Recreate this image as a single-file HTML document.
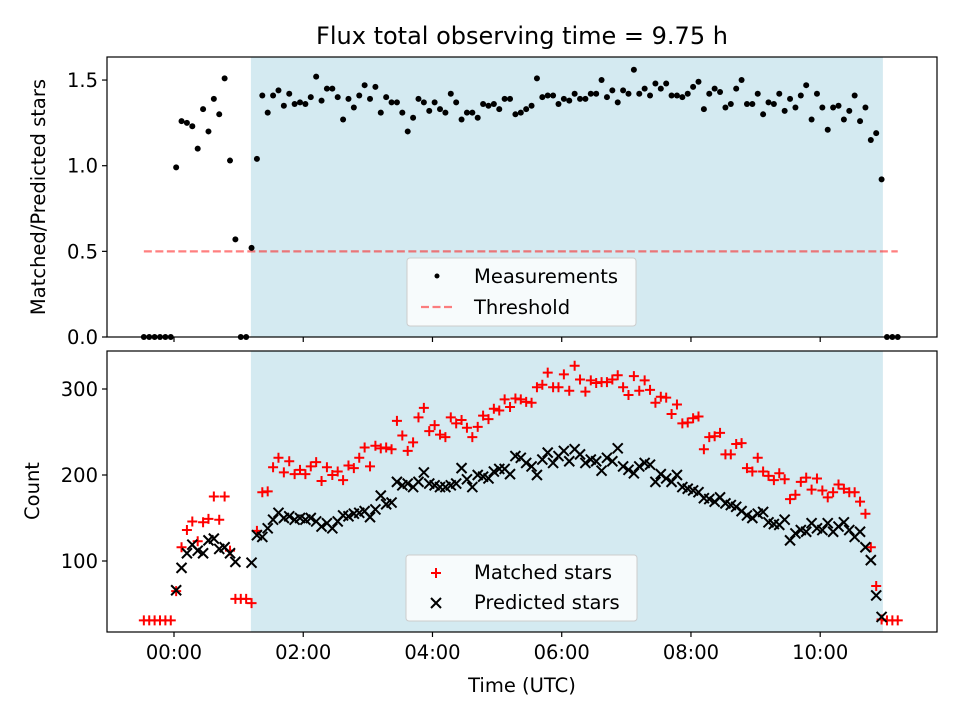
<!DOCTYPE html>
<html><head><meta charset="utf-8"><style>
html,body{margin:0;padding:0;background:#fff;}
svg{display:block;font-family:"DejaVu Sans","Liberation Sans",sans-serif;}
</style></head><body>
<svg id="chart" width="960" height="720" viewBox="0 0 960 720" xmlns="http://www.w3.org/2000/svg">
<text x="522" y="44" font-size="24" text-anchor="middle">Flux total observing time = 9.75 h</text>
<g id="topPanel"></g><g id="botPanel"></g>
</svg>
<script>
// ---- data ----
const startMinutes = -28;
const stepMinutes = 5;
const ratio = [0,0,0,0,0,0,
0.99,1.26,1.25,1.23,1.10,1.33,1.20,1.39,1.30,1.51,1.03,0.57,0,0,0.52,1.04,1.41,1.31,1.41,1.44,1.35,1.42,1.36,1.37,1.36,1.40,1.52,1.38,1.45,1.45,1.40,1.27,1.39,1.34,1.41,1.47,1.39,1.46,1.31,1.40,
1.37,1.37,1.31,1.20,1.28,1.39,1.37,1.32,1.37,1.33,1.31,1.42,1.37,1.27,1.31,1.31,1.28,1.36,1.35,1.36,1.33,1.39,1.39,1.30,1.31,1.33,1.35,1.51,1.40,1.41,1.41,1.36,1.39,1.38,1.42,1.39,1.39,1.42,1.42,1.50,1.40,1.44,1.37,1.44,1.42,1.56,1.42,1.45,1.41,1.48,
1.45,1.48,1.41,1.41,1.40,1.42,1.46,1.49,1.33,1.42,1.45,1.43,1.34,1.36,1.45,1.50,1.36,1.36,1.42,1.30,1.37,1.36,1.42,1.32,1.39,1.34,1.41,1.47,1.27,1.42,1.34,1.21,1.34,1.35,1.27,1.32,1.41,1.26,1.34,1.15,1.19,0.92,
0,0,0];
const matched = [31,31,31,31,31,31,
65,116,136,146,123,145,149,175,148,175,112,56,56,56,51,135,180,181,209,220,203,216,201,206,201,210,215,193,209,200,204,194,211,208,220,232,210,234,231,232,
230,263,246,228,238,267,278,251,258,247,244,267,260,264,255,244,256,269,265,277,275,288,279,289,288,285,284,302,305,319,302,302,317,298,327,311,297,310,307,308,308,311,316,302,293,315,298,310,299,284,
291,290,271,282,260,261,266,268,230,244,245,249,224,224,236,237,208,204,220,204,199,194,202,195,172,177,192,197,183,196,182,174,180,189,184,180,180,169,155,116,71,32,
31,31,31];
const predicted = [null,null,null,null,null,null,
66,92,109,119,112,109,124,126,114,116,109,99,null,null,98,130,128,138,148,156,150,152,148,150,148,150,146,140,144,138,146,153,152,155,156,158,151,160,176,166,
168,192,188,190,186,192,203,190,188,186,186,188,190,208,195,186,200,198,196,204,207,207,201,222,220,214,210,200,218,226,214,222,228,216,230,224,214,218,216,205,220,216,231,210,206,202,210,214,212,192,
201,196,192,200,186,184,182,180,173,172,169,174,167,165,163,158,153,150,155,157,145,143,142,148,124,132,136,134,144,138,136,144,134,140,145,136,128,134,116,101,60,35,
null,null,null];
const xTickHours = [0,2,4,6,8,10];
const xTickLabels = ["00:00","02:00","04:00","06:00","08:00","10:00"];
const topTicks = [0,0.5,1.0,1.5];
const topTickLabels = ["0.0","0.5","1.0","1.5"];
const botTicks = [100,200,300];
const threshold = 0.5;
const spanHours = [1.19,10.97];

// ---- scales ----
const NS="http://www.w3.org/2000/svg";
const L=107,R=937;
const FS=19.5;
const xS=h=>174+h*64.62;
const yTop=v=>337-v*171.3;
const yBot=v=>561-(v-100)*0.86;
const T0=57,T1=337,B0=351,B1=632;
function mk(parent,tag,attrs,text){const e=document.createElementNS(NS,tag);for(const k in attrs)e.setAttribute(k,attrs[k]);if(text!==undefined)e.textContent=text;parent.appendChild(e);return e;}
const hours=ratio.map((_,i)=>(startMinutes+i*stepMinutes)/60);
const topG=document.getElementById('topPanel'), botG=document.getElementById('botPanel');

function panel(g,y0,y1,name){
  let s=mk(g,'rect',{x:xS(spanHours[0]),y:y0,width:xS(spanHours[1])-xS(spanHours[0]),height:y1-y0,fill:'#d4eaf1'});
  
  
}
panel(topG,T0,T1,'top');panel(botG,B0,B1,'bottom');

let th=mk(topG,'line',{x1:xS(hours[0]),x2:xS(hours[hours.length-1]),y1:yTop(threshold),y2:yTop(threshold),stroke:'#ff0000','stroke-opacity':0.5,'stroke-width':2.2,'stroke-dasharray':'8 3.5'});



ratio.forEach((v,i)=>{
  const c=mk(topG,'circle',{cx:xS(hours[i]),cy:yTop(v),r:3,fill:'#000'});
  
  
});
matched.forEach((v,i)=>{
  if(v==null)return;const x=xS(hours[i]),y=yBot(v),d=5;
  const p=mk(botG,'path',{d:`M${x-d} ${y}H${x+d}M${x} ${y-d}V${y+d}`,stroke:'#ff0000','stroke-width':2,fill:'none'});
  
  
});
predicted.forEach((v,i)=>{
  if(v==null)return;const x=xS(hours[i]),y=yBot(v),d=5;
  const p=mk(botG,'path',{d:`M${x-d} ${y-d}L${x+d} ${y+d}M${x-d} ${y+d}L${x+d} ${y-d}`,stroke:'#000','stroke-width':2,fill:'none'});
  
  
});

function frame(g,y0,y1,name,labels){
  const f=mk(g,'rect',{x:L,y:y0,width:R-L,height:y1-y0,fill:'none',stroke:'#000','stroke-width':1.2});
  
  
  xTickHours.forEach((h,i)=>{
    const t=mk(g,'line',{x1:xS(h),x2:xS(h),y1:y1,y2:y1+5,stroke:'#000','stroke-width':1.2});
    
    
    if(labels){
      const tx=mk(g,'text',{x:xS(h),y:y1+27,'font-size':FS,'text-anchor':'middle'},xTickLabels[i]);
      
      
    }
  });
}
frame(topG,T0,T1,'top',false);frame(botG,B0,B1,'bottom',true);

topTicks.forEach((v,i)=>{
  const y=yTop(v);
  const t=mk(topG,'line',{x1:L-5,x2:L,y1:y,y2:y,stroke:'#000','stroke-width':1.2});
  
  
  const tx=mk(topG,'text',{x:L-9,y:y+7,'font-size':FS,'text-anchor':'end'},topTickLabels[i]);
  
  
});
botTicks.forEach(v=>{
  const y=yBot(v);
  const t=mk(botG,'line',{x1:L-5,x2:L,y1:y,y2:y,stroke:'#000','stroke-width':1.2});
  
  
  const tx=mk(botG,'text',{x:L-9,y:y+7,'font-size':FS,'text-anchor':'end'},String(v));
  
  
});

let a=mk(topG,'text',{x:0,y:0,'font-size':FS,'text-anchor':'middle',transform:'translate(45,197) rotate(-90)'},'Matched/Predicted stars');

a=mk(botG,'text',{x:0,y:0,'font-size':FS,'text-anchor':'middle',transform:'translate(39,491) rotate(-90)'},'Count');

a=mk(botG,'text',{x:522,y:692,'font-size':FS,'text-anchor':'middle'},'Time (UTC)');


let lg=mk(topG,'g',{});

mk(lg,'rect',{x:407,y:258,width:229,height:68,rx:3,fill:'#fff','fill-opacity':0.8,stroke:'#ccc'});
mk(lg,'circle',{cx:437,cy:276,r:2.5,fill:'#000'});
mk(lg,'text',{x:474,y:283,'font-size':FS},'Measurements');
mk(lg,'line',{x1:421,x2:455,y1:307,y2:307,stroke:'#ff0000','stroke-opacity':0.5,'stroke-width':2.2,'stroke-dasharray':'8 3.5'});
mk(lg,'text',{x:474,y:314,'font-size':FS},'Threshold');

lg=mk(botG,'g',{});

mk(lg,'rect',{x:406,y:555,width:231,height:66,rx:3,fill:'#fff','fill-opacity':0.8,stroke:'#ccc'});
mk(lg,'path',{d:'M431 573H441M436 568V578',stroke:'#ff0000','stroke-width':2});
mk(lg,'text',{x:474,y:579,'font-size':FS},'Matched stars');
mk(lg,'path',{d:'M431 598L441 608M431 608L441 598',stroke:'#000','stroke-width':2});
mk(lg,'text',{x:474,y:609,'font-size':FS},'Predicted stars');
</script>
</body></html>
